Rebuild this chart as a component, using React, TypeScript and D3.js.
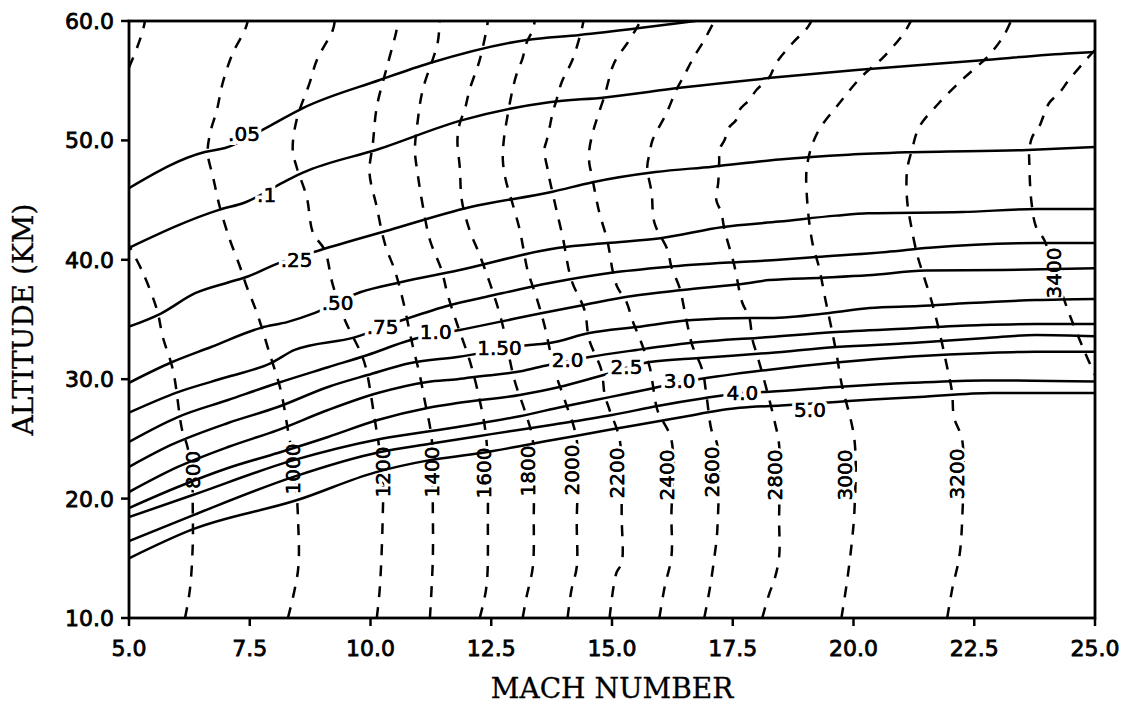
import React from 'react';
import * as d3 from 'd3';

type P = [number, number];

// ---- axes ----
const MACH_TICKS = [5, 7.5, 10, 12.5, 15, 17.5, 20, 22.5, 25];
const ALT_TICKS = [10, 20, 30, 40, 50, 60];

// ---- solid contours [mach, altitude km] ----
const Q_005: P[] = [[5,46.0],[6.57,49.03],[6.99,49.36],[7.87,51.12],[8.6,52.71],[10.19,55.06],[11.23,56.48],[13.23,58.41],[14.33,58.83],[15.57,59.41],[16.4,59.83],[16.8,60.05]];
const Q_01: P[] = [[5,41.0],[6.88,44.2],[7.4,44.8],[8.29,46.7],[8.6,47.3],[10.19,49.3],[11.9,51.7],[13.7,53.2],[14.85,53.6],[16.4,54.4],[18.46,55.3],[20.06,55.9],[22.6,56.7],[24.52,57.3],[25,57.4]];
const Q_025: P[] = [[5,34.4],[5.66,35.5],[6.37,37.2],[7.05,38.1],[7.46,38.6],[8.02,39.6],[8.95,40.8],[10.4,42.5],[12.05,44.4],[13.77,45.7],[14.6,46.5],[15.9,47.35],[17.08,47.8],[18.46,48.4],[19.9,48.8],[21.1,49.0],[23.6,49.2],[25,49.45]];
const Q_050: P[] = [[5,29.7],[5.87,31.4],[6.7,32.7],[7.73,34.3],[8.29,34.8],[8.85,35.55],[9.8,37.3],[10.6,38.1],[11.8,39.1],[13.9,41.0],[14.9,41.4],[16.0,41.8],[17.3,42.75],[18.46,43.2],[19.64,43.7],[20.3,43.9],[22.25,44.0],[23.8,44.25],[25,44.25]];
const Q_075: P[] = [[5,27.2],[6.0,28.9],[7.05,30.2],[7.94,31.35],[8.43,32.45],[9.67,33.5],[10.7,35.0],[11.64,36.2],[12.4,36.9],[13.71,38.06],[14.95,38.9],[16.13,39.4],[17.57,39.8],[18.46,40.0],[19.23,40.23],[20.68,40.65],[21.57,41.0],[23.78,41.4],[25,41.4]];
const Q_10: P[] = [[5,24.75],[6.01,26.83],[7.05,28.26],[8.08,29.68],[9.12,31.0],[9.94,32.03],[10.83,33.28],[11.85,34.12],[12.67,34.8],[13.56,35.55],[14.39,36.2],[15.42,36.97],[16.46,37.47],[17.84,38.06],[18.26,38.3],[19.36,38.5],[20.3,38.7],[21.5,39.1],[23.07,39.15],[25,39.3]];
const Q_15: P[] = [[5,22.65],[5.87,24.49],[7.05,26.33],[8.08,27.67],[9.12,29.35],[9.94,30.35],[10.83,31.36],[11.8,31.86],[13.29,32.86],[13.71,33.03],[14.53,33.87],[15.51,34.37],[16.66,34.96],[17.84,35.13],[18.26,35.13],[19.5,35.54],[20.33,35.96],[21.36,36.13],[22.39,36.38],[23.78,36.63],[25,36.72]];
const Q_20: P[] = [[5,20.55],[6.01,22.65],[7.05,24.32],[8.08,25.74],[9.12,27.42],[10.15,28.84],[11.18,29.77],[11.8,30.0],[12.32,30.27],[13.02,30.6],[13.5,31.02],[14.53,31.86],[15.51,32.45],[16.6,33.03],[18.26,33.53],[19.64,33.95],[21.3,34.29],[22.66,34.54],[23.78,34.62],[25,34.62]];
const Q_25: P[] = [[5,19.21],[6.01,20.97],[7.05,22.56],[8.08,23.82],[9.12,25.16],[10.15,26.58],[11.18,27.59],[11.8,28.0],[13.09,28.68],[13.91,29.35],[14.68,30.18],[15.78,31.44],[16.81,31.78],[18.26,32.2],[19.64,32.7],[21.21,33.03],[22.75,33.45],[23.78,33.7],[25,33.6]];
const Q_30: P[] = [[5,18.45],[6.32,20.3],[8.39,23.2],[10.2,25.0],[11.64,25.9],[13.09,26.9],[13.98,27.7],[14.95,28.5],[15.8,29.2],[16.5,29.8],[17.3,30.3],[18.26,30.8],[19.64,31.4],[21.21,31.9],[22.75,32.2],[23.78,32.3],[25,32.3]];
const Q_40: P[] = [[5,16.45],[6.32,18.6],[8.39,21.8],[10.2,23.9],[11.23,24.6],[12.5,25.4],[13.8,26.2],[15.0,27.0],[16.0,27.8],[16.9,28.4],[17.7,28.85],[18.26,28.95],[19.64,29.35],[21.21,29.7],[22.7,29.9],[25,29.8]];
const Q_50: P[] = [[5,15.0],[6.3,17.4],[8.5,19.9],[10.1,22.2],[11.2,23.2],[12.26,23.8],[13.77,24.9],[15.0,25.8],[16.4,26.8],[17.64,27.6],[18.5,27.8],[19.64,28.1],[20.39,28.3],[21.36,28.5],[22.87,28.85],[25,28.85]];

const Q_LINES: P[][] = [Q_005, Q_01, Q_025, Q_050, Q_075, Q_10, Q_15, Q_20, Q_25, Q_30, Q_40, Q_50];
const Q_LABELS = ['.05', '.1', '.25', '.50', '.75', '1.0', '1.50', '2.0', '2.5', '3.0', '4.0', '5.0'];
const Q_LABEL_POS: P[] = [[7.38,50.54],[7.85,45.43],[8.47,39.98],[9.32,36.38],[10.25,34.37],[11.35,33.95],[12.67,32.61],[14.08,31.61],[15.3,31.02],[16.4,29.85],[17.7,28.85],[19.1,27.42]];

// ---- dashed isotherms [mach, altitude km] ----
const T800A: P[] = [[6.16,10],[6.26,12.35],[6.32,16.11],[6.32,19.05],[6.30,22.4],[6.2,24.49],[6.10,25.74],[5.91,30.77],[5.70,33.53],[5.58,35.8],[5.29,38.9],[5.0,41.2]];
const T800B: P[] = [[5.0,56.1],[5.17,57.8],[5.29,59.25],[5.33,60]];
const T1000: P[] = [[8.29,10],[8.5,14.02],[8.5,18.21],[8.43,22.4],[8.29,25.74],[8.14,29.1],[7.92,32.03],[7.65,35.54],[7.44,37.72],[7.30,39.4],[7.09,41.66],[6.88,44.42],[6.74,46.93],[6.63,48.94],[6.68,50.62],[6.82,52.55],[6.94,54.81],[7.15,57.32],[7.40,59.25],[7.46,60]];
const T1200: P[] = [[10.13,10],[10.19,12.35],[10.25,17.96],[10.25,21.98],[10.09,26.58],[9.90,31.02],[9.80,32.2],[9.47,34.96],[9.22,37.9],[9.05,40.82],[8.81,42.25],[8.68,45.26],[8.47,47.77],[8.39,49.2],[8.47,51.71],[8.74,54.81],[8.89,56.73],[9.22,59.25],[9.26,60]];
const T1400: P[] = [[11.23,10],[11.29,14.86],[11.29,19.3],[11.27,24.91],[11.12,28.26],[11.02,30.35],[10.87,32.86],[10.67,36.63],[10.5,39.15],[10.34,40.82],[10.25,42.08],[10.13,44.42],[9.98,47.27],[10.05,49.78],[10.13,52.8],[10.34,56.15],[10.54,59.25],[10.56,60]];
const T1600: P[] = [[12.26,10],[12.40,12.6],[12.43,17.96],[12.40,24.91],[12.26,28.26],[12.05,31.61],[11.80,34.54],[11.60,37.05],[11.47,39.15],[11.23,41.66],[11.08,44.59],[10.98,47.1],[10.92,49.2],[10.98,51.71],[11.08,54.22],[11.39,58.16],[11.43,60]];
const T1800: P[] = [[13.15,10],[13.23,11.76],[13.36,14.27],[13.38,18.46],[13.36,24.91],[13.19,27.42],[12.98,29.93],[12.71,34.96],[12.47,38.06],[12.26,40.4],[12.05,42.5],[11.89,45.0],[11.85,47.68],[11.80,50.03],[11.85,51.46],[11.95,52.55],[12.05,54.22],[12.26,56.73],[12.40,59.25],[12.43,60]];
const T2000: P[] = [[14.08,10],[14.16,12.35],[14.27,14.27],[14.27,17.96],[14.27,24.91],[14.02,28.26],[13.81,30.77],[13.6,34.54],[13.44,36.8],[13.25,39.15],[13.17,40.82],[13.09,42.5],[12.92,45.0],[12.80,46.68],[12.74,48.36],[12.76,50.03],[12.84,52.13],[12.94,54.22],[13.02,55.48],[13.15,56.9],[13.23,58.16],[13.36,59.25],[13.40,60]];
const T2200: P[] = [[14.95,10],[15.09,13.77],[15.20,14.6],[15.20,18.46],[15.16,24.91],[14.95,27.42],[14.85,28.68],[14.78,30.77],[14.53,33.28],[14.43,35.8],[14.16,38.31],[13.98,41.9],[13.85,44.17],[13.77,45.6],[13.71,46.68],[13.67,47.52],[13.6,49.2],[13.65,50.03],[13.71,51.12],[13.77,52.3],[13.85,53.38],[13.96,54.89],[14.18,56.73],[14.37,59.25],[14.41,60]];
const T2400: P[] = [[15.98,10],[16.09,12.6],[16.23,15.11],[16.23,18.46],[16.23,24.91],[15.94,27.42],[15.84,29.68],[15.78,31.02],[15.61,33.03],[15.42,34.96],[15.30,36.47],[15.11,37.72],[15.01,39.15],[14.95,40.65],[14.89,41.83],[14.74,43.92],[14.68,45.01],[14.58,47.1],[14.53,48.1],[14.53,49.2],[14.60,50.62],[14.70,51.96],[14.85,53.8],[15.01,56.15],[15.11,56.98],[15.32,58.16],[15.51,59.41],[15.59,60]];
const T2600: P[] = [[16.91,10],[17.02,12.35],[17.12,15.11],[17.18,17.37],[17.18,24.49],[17.06,25.74],[16.96,28.51],[16.87,30.77],[16.66,32.86],[16.54,34.96],[16.40,37.64],[16.23,39.4],[16.15,40.82],[15.88,43.08],[15.82,45.6],[15.73,47.77],[15.78,48.94],[15.84,50.03],[16.13,52.3],[16.33,54.22],[16.50,55.48],[16.66,56.73],[16.91,58.41],[17.12,60]];
const T2800: P[] = [[18.11,10],[18.26,12.09],[18.36,13.18],[18.46,15.11],[18.46,18.21],[18.46,24.49],[18.36,26.58],[18.15,29.93],[17.99,32.2],[17.91,33.28],[17.84,35.21],[17.70,36.38],[17.53,39.57],[17.33,42.5],[17.26,44.0],[17.16,45.0],[17.20,46.5],[17.22,48.36],[17.22,49.2],[17.33,50.03],[17.43,51.12],[17.57,51.71],[17.64,52.55],[17.84,53.38],[17.99,54.22],[18.26,55.31],[18.40,56.48],[18.74,58.16],[19.04,59.41],[19.13,60]];
const T3000: P[] = [[19.75,10],[19.87,13.18],[19.97,16.53],[20.02,19.05],[20.02,24.91],[19.75,29.68],[19.66,31.86],[19.56,33.95],[19.42,36.63],[19.29,39.31],[19.15,41.41],[19.04,45.0],[19.04,47.94],[19.25,50.62],[19.71,53.13],[20.16,55.31],[20.62,56.98],[21.03,58.91],[21.19,60]];
const T3200: P[] = [[21.94,10],[22.04,12.35],[22.19,15.11],[22.25,18.21],[22.25,24.91],[22.08,26.83],[22.04,28.93],[21.92,31.36],[21.77,34.12],[21.61,36.63],[21.46,38.56],[21.32,40.4],[21.19,42.91],[21.11,45.0],[21.11,47.52],[21.21,49.2],[21.36,51.12],[21.77,53.13],[22.29,55.23],[22.81,57.15],[23.12,58.83],[23.26,60]];
const T3400: P[] = [[25.0,57.57],[24.81,56.73],[24.46,55.06],[24.26,53.97],[24.05,53.13],[23.84,51.12],[23.70,50.28],[23.64,49.2],[23.64,48.11],[23.68,45.0],[23.78,42.75],[23.95,41.66],[24.15,39.15],[24.46,35.55],[24.77,32.45],[25.0,30.35]];

const T_LINES: P[][] = [T800A, T800B, T1000, T1200, T1400, T1600, T1800, T2000, T2200, T2400, T2600, T2800, T3000, T3200, T3400];
const T_LABELS = ['800', '1000', '1200', '1400', '1600', '1800', '2000', '2200', '2400', '2600', '2800', '3000', '3200', '3400'];
const T_LABEL_POS: P[] = [[6.32,22.4],[8.39,22.48],[10.25,22.23],[11.27,22.23],[12.36,22.15],[13.27,22.31],[14.18,22.4],[15.11,22.15],[16.13,21.98],[17.08,22.23],[18.38,21.98],[19.83,21.98],[22.15,22.06],[24.15,38.9]];

const W = 1126;
const H = 705;
const X0 = 129, X1 = 1095, Y0 = 618, Y1 = 21;

export default function App() {
  const x = d3.scaleLinear().domain([5, 25]).range([X0, X1]);
  const y = d3.scaleLinear().domain([10, 60]).range([Y0, Y1]);
  const solid = d3.line<P>().x(d => x(d[0])).y(d => y(d[1])).curve(d3.curveMonotoneX);
  const dashed = d3.line<P>().x(d => x(d[0])).y(d => y(d[1])).curve(d3.curveCatmullRom.alpha(0.5));
  const labelFont = '"DejaVu Sans", sans-serif';
  const LW = 2.5;

  const tLabel = (i: number, halo: boolean) => {
    const px = x(T_LABEL_POS[i][0]);
    const py = y(T_LABEL_POS[i][1]);
    return (
      <text key={(halo ? 'th' : 'tt') + i} transform={`translate(${px + 7},${py}) rotate(-90)`} textAnchor="middle"
        fontFamily={labelFont} fontSize={20} fill="#000"
        stroke={halo ? '#fff' : '#000'} strokeWidth={halo ? 6 : 0.4}
        style={halo ? { paintOrder: 'stroke' } : undefined}>{T_LABELS[i]}</text>
    );
  };

  return (
    <svg width={W} height={H} style={{ position: 'absolute', left: 0, top: 0, background: '#fff' }}>
      <defs>
        <clipPath id="plot">
          <rect x={X0} y={Y1} width={X1 - X0} height={Y0 - Y1} />
        </clipPath>
      </defs>
      <rect x={0} y={0} width={W} height={H} fill="#fff" />
      <g clipPath="url(#plot)">
        {T_LINES.map((pts, i) => (
          <path key={'t' + i} d={dashed(pts) || ''} fill="none" stroke="#000" strokeWidth={LW} strokeDasharray="11,10" />
        ))}
        {T_LABELS.map((_, i) => tLabel(i, true))}
        {Q_LINES.map((pts, i) => (
          <path key={'q' + i} d={solid(pts) || ''} fill="none" stroke="#000" strokeWidth={LW} />
        ))}
        {Q_LABELS.map((t, i) => (
          <text key={'ql' + i} x={x(Q_LABEL_POS[i][0])} y={y(Q_LABEL_POS[i][1]) + 7} textAnchor="middle"
            fontFamily={labelFont} fontSize={20} fill="#000" stroke="#fff" strokeWidth={8}
            style={{ paintOrder: 'stroke' }}>{t}</text>
        ))}
        {Q_LABELS.map((t, i) => (
          <text key={'qt' + i} x={x(Q_LABEL_POS[i][0])} y={y(Q_LABEL_POS[i][1]) + 7} textAnchor="middle"
            fontFamily={labelFont} fontSize={20} fill="#000" stroke="#000" strokeWidth={0.4}>{t}</text>
        ))}
        {T_LABELS.map((_, i) => tLabel(i, false))}
      </g>
      {/* frame */}
      <rect x={X0} y={Y1} width={X1 - X0} height={Y0 - Y1} fill="none" stroke="#000" strokeWidth={2.8} />
      {/* y ticks */}
      {ALT_TICKS.map(v => (
        <g key={'yt' + v}>
          <line x1={X0 - 8} x2={X0} y1={y(v)} y2={y(v)} stroke="#000" strokeWidth={2.5} />
          <text x={114} y={y(v) + 8} textAnchor="end" fontFamily={labelFont} fontSize={22}
            fill="#000" stroke="#000" strokeWidth={0.8}>{v.toFixed(1)}</text>
        </g>
      ))}
      {/* x ticks */}
      {MACH_TICKS.map(v => (
        <g key={'xt' + v}>
          <line x1={x(v)} x2={x(v)} y1={Y0} y2={Y0 + 8} stroke="#000" strokeWidth={2.5} />
          <text x={x(v)} y={656} textAnchor="middle" fontFamily={labelFont} fontSize={22}
            fill="#000" stroke="#000" strokeWidth={0.8}>{v.toFixed(1)}</text>
        </g>
      ))}
      <text x={(X0 + X1) / 2} y={698} textAnchor="middle" fontFamily='"DejaVu Serif", serif' fontSize={28}
        fill="#000" stroke="#000" strokeWidth={0.3}>MACH NUMBER</text>
      <text transform={`translate(33,${(Y0 + Y1) / 2}) rotate(-90)`} textAnchor="middle"
        fontFamily='"DejaVu Serif", serif' fontSize={28} fill="#000" stroke="#000" strokeWidth={0.3}>ALTITUDE (KM)</text>
    </svg>
  );
}
